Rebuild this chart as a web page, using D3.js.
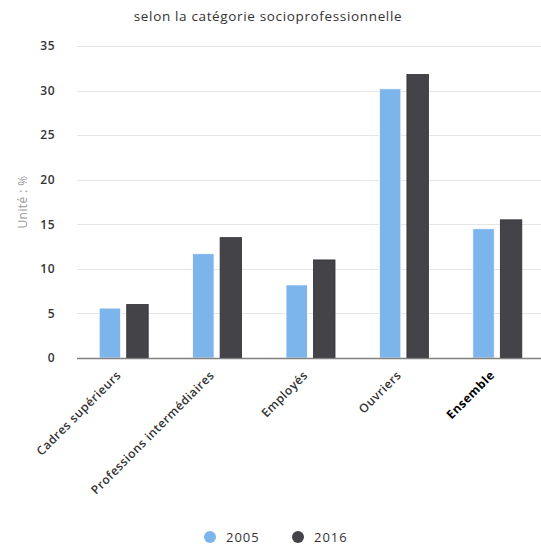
<!DOCTYPE html>
<html>
<head>
<meta charset="utf-8">
<script src="https://cdn.jsdelivr.net/npm/d3@7"></script>
<style>
  html, body { margin: 0; padding: 0; background: #fff; }
  svg { display: block; font-family: "Open Sans", "Noto Sans", sans-serif; }
</style>
</head>
<body>
<svg id="chart" width="541" height="547"></svg>
<script>
// Categories and series
const categories = ["Cadres supérieurs", "Professions intermédiaires", "Employés", "Ouvriers", "Ensemble"];
const seriesNames = ["2005", "2016"];
const values2005 = [5.6, 11.7, 8.2, 30.2, 14.5];
const values2016 = [6.0, 13.5, 11.0, 31.8, 15.5];
const yTicks = [0, 5, 10, 15, 20, 25, 30, 35];
const colors = ["#7cb5ec", "#434348"];

const svg = d3.select("#chart");
const margin = { top: 46, right: -3, bottom: 189, left: 77 };
const W = 541, H = 547;
const innerW = W - margin.left - margin.right;
const innerH = H - margin.top - margin.bottom;

const g = svg.append("g").attr("transform", `translate(${margin.left},${margin.top})`);

const x0 = d3.scaleBand().domain(categories).range([0, innerW]).padding(0);
const groupW = 49;
const x1 = d3.scaleBand().domain(seriesNames)
  .range([(x0.bandwidth() - groupW) / 2, (x0.bandwidth() + groupW) / 2])
  .paddingInner(0.22);
const y = d3.scaleLinear().domain([0, 35]).range([innerH, 0]);

// Title
svg.append("text")
  .attr("x", 268).attr("y", 21)
  .attr("text-anchor", "middle")
  .attr("font-size", 13.5)
  .attr("letter-spacing", 0.65)
  .attr("fill", "#333")
  .text("selon la catégorie socioprofessionnelle");

// Grid lines
g.append("g")
  .selectAll("line")
  .data(yTicks.filter(t => t > 0))
  .join("line")
  .attr("x1", 0).attr("x2", innerW)
  .attr("y1", d => Math.round(y(d)) + 0.5).attr("y2", d => Math.round(y(d)) + 0.5)
  .attr("stroke", "#e6e6e6").attr("stroke-width", 1);

// Y axis labels
const yAxis = d3.axisLeft(y).tickValues(yTicks).tickSize(0).tickPadding(22);
const ya = g.append("g").call(yAxis);
ya.select(".domain").remove();
ya.selectAll("text")
  .attr("font-family", "\"Open Sans\", sans-serif")
  .attr("font-size", 12)
  .attr("letter-spacing", 0.5)
  .attr("font-weight", 600)
  .attr("fill", "#333");

// Y axis title
svg.append("text")
  .attr("transform", `translate(27,${margin.top + innerH / 2}) rotate(-90)`)
  .attr("text-anchor", "middle")
  .attr("font-size", 12)
  .attr("letter-spacing", 0.4)
  .attr("fill", "#999")
  .text("Unité : %");

// Bars
const rows = categories.map((c, i) => ({ cat: c, vals: [values2005[i], values2016[i]] }));
const groups = g.append("g").selectAll("g")
  .data(rows)
  .join("g")
  .attr("transform", d => `translate(${x0(d.cat)},0)`);

groups.selectAll("rect")
  .data(d => d.vals.map((v, k) => ({ key: seriesNames[k], v, k })))
  .join("rect")
  .attr("x", d => x1(d.key))
  .attr("width", x1.bandwidth())
  .attr("y", d => y(d.v))
  .attr("height", d => innerH - y(d.v))
  .attr("fill", d => colors[d.k])
  .attr("stroke", d => d.k === 0 ? "#ffffff" : "#2f2f33")
  .attr("stroke-width", 0.8);

// X axis baseline
g.append("line")
  .attr("x1", 0).attr("x2", innerW)
  .attr("y1", innerH + 0.5).attr("y2", innerH + 0.5)
  .attr("stroke", "#808080").attr("stroke-width", 1.5);

// X axis labels, rotated
const xa = g.append("g").attr("transform", `translate(0,${innerH})`)
  .call(d3.axisBottom(x0).tickSize(0).tickPadding(0));
xa.select(".domain").remove();
xa.selectAll("text")
  .attr("font-family", "\"Open Sans\", sans-serif")
  .attr("font-size", 12)
  .attr("letter-spacing", 0.5)
  .attr("font-weight", d => d === "Ensemble" ? 700 : 600)
  .attr("fill", d => d === "Ensemble" ? "#000" : "#333")
  .attr("text-anchor", "end")
  .attr("dy", null)
  .attr("transform", "translate(-2,18) rotate(-45)");

// Legend
const legend = svg.append("g").attr("transform", "translate(0,537)");
const legendItems = [{ name: "2005", x: 210 }, { name: "2016", x: 298 }];
legendItems.forEach((it, i) => {
  legend.append("circle").attr("cx", it.x).attr("cy", 0).attr("r", 6).attr("fill", colors[i]);
  legend.append("text")
    .attr("x", it.x + 16).attr("y", 4.5)
    .attr("font-size", 13)
    .attr("letter-spacing", 1)
    .attr("font-weight", 500)
    .attr("fill", "#333")
    .text(it.name);
});
</script>
</body>
</html>
